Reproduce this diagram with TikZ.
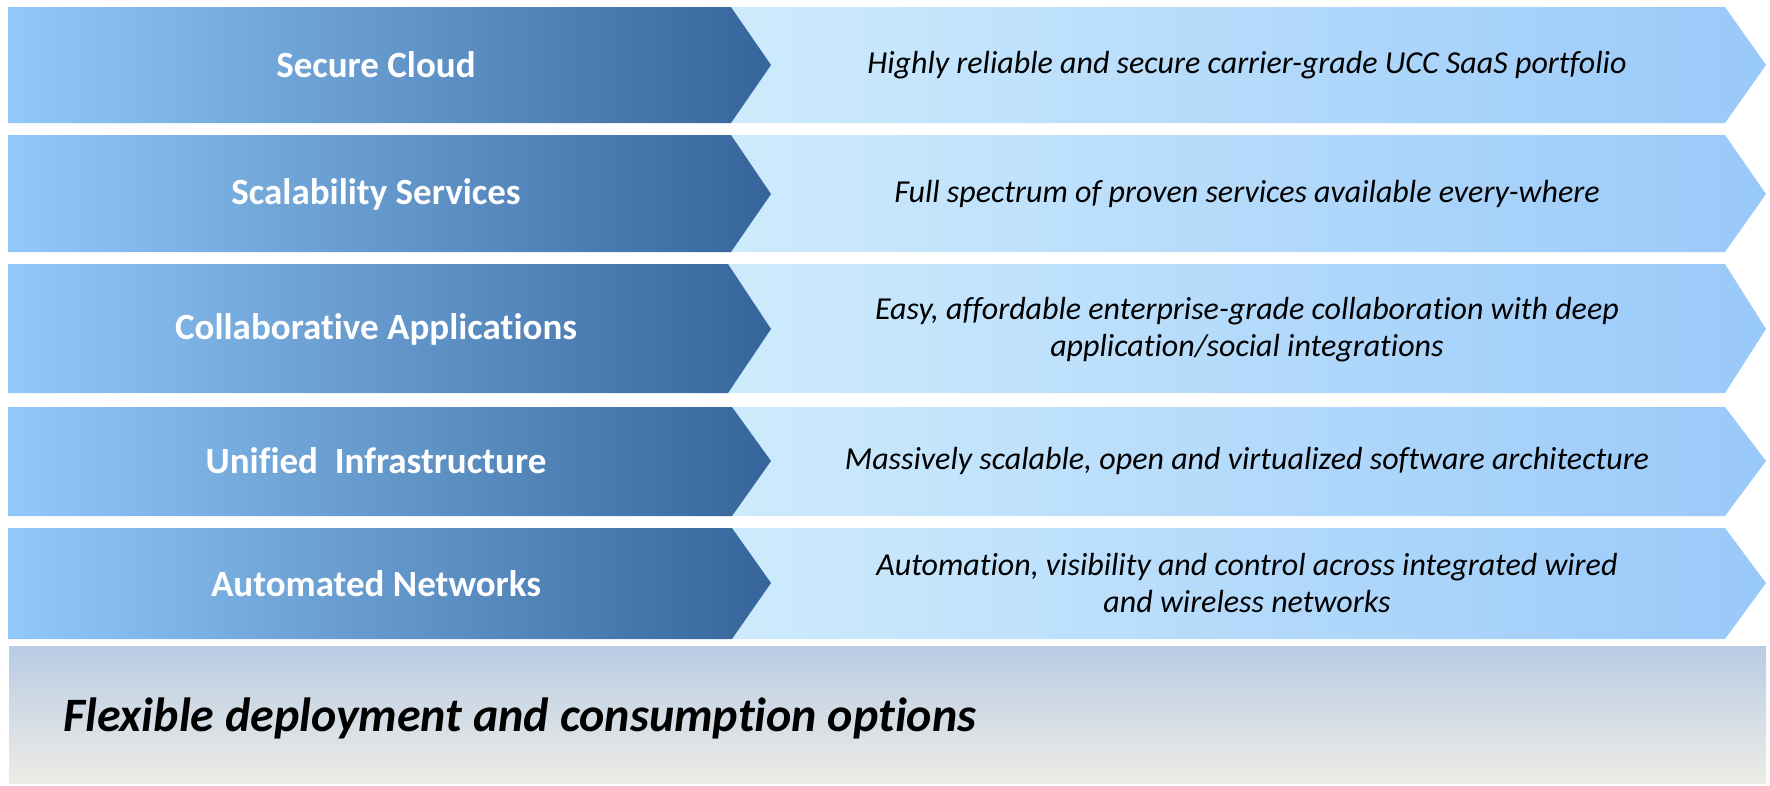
\documentclass[tikz,border=0pt]{standalone}
\usepackage{fontspec}
\setmainfont{Carlito}[Ligatures=NoCommon]
\usepackage{tikz}

\definecolor{darkleft}{HTML}{92C9FA}
\definecolor{darkright}{HTML}{35659B}
\definecolor{paleleft}{HTML}{D0ECFD}
\definecolor{paleright}{HTML}{99C9F9}
\definecolor{bandtop}{HTML}{B8CCE4}
\definecolor{bandbottom}{HTML}{EEECE5}

\tikzset{
  darkarrow/.style={left color=darkleft, right color=darkright},
  palearrow/.style={left color=paleleft, right color=paleright},
  pillar/.style={text=white, font=\fontsize{37}{42}\selectfont\bfseries},
  promise/.style={text=black, align=center, font=\fontsize{32}{37}\selectfont\itshape},
}

\begin{document}
\begin{tikzpicture}[x=1pt, y=-1pt]
                    \useasboundingbox (0,0) rectangle (1770,785);
                    % bottom band
                    \shade[top color=bandtop, bottom color=bandbottom] (9,646) rectangle (1766,783);
                    \node[anchor=west, font=\fontsize{48}{54}\selectfont\bfseries\itshape] (options) at (60,718) {Flexible deployment and consumption options};
                    % row 1
                    \shade[palearrow] (700,7) -- (1725,7) -- (1766,65) -- (1725,123) -- (700,123) -- cycle;
                    \shade[darkarrow] (8,7) -- (731,7) -- (771,65) -- (731,123) -- (8,123) -- cycle;
                    \node[pillar] (cloud) at (376,65) {Secure Cloud};
                    \node[promise] (cloudtext) at (1247,65) {Highly reliable and secure carrier-grade UCC SaaS portfolio};
                    % row 2
                    \shade[palearrow] (700,135) -- (1725,135) -- (1766,194) -- (1725,252) -- (700,252) -- cycle;
                    \shade[darkarrow] (8,135) -- (731,135) -- (771,194) -- (731,252) -- (8,252) -- cycle;
                    \node[pillar] (scale) at (376,194) {Scalability Services};
                    \node[promise] (scaletext) at (1247,194) {Full spectrum of proven services available every-where};
                    % row 3
                    \shade[palearrow] (700,264) -- (1725,264) -- (1766,329) -- (1725,393) -- (700,393) -- cycle;
                    \shade[darkarrow] (8,264) -- (728,264) -- (771,329) -- (728,393) -- (8,393) -- cycle;
                    \node[pillar] (apps) at (376,329) {Collaborative Applications};
                    \node[promise] (appstext) at (1247,330) {Easy, affordable enterprise-grade collaboration with deep\\application/social integrations};
                    % row 4
                    \shade[palearrow] (700,407) -- (1725,407) -- (1766,461) -- (1725,516) -- (700,516) -- cycle;
                    \shade[darkarrow] (8,407) -- (732,407) -- (771,461) -- (732,516) -- (8,516) -- cycle;
                    \node[pillar] (infra) at (376,461) {Unified\ \ Infrastructure};
                    \node[promise] (infratext) at (1247,461) {Massively scalable, open and virtualized software architecture};
                    % row 5
                    \shade[palearrow] (700,528) -- (1725,528) -- (1766,583) -- (1725,639) -- (700,639) -- cycle;
                    \shade[darkarrow] (8,528) -- (732,528) -- (771,583) -- (732,639) -- (8,639) -- cycle;
                    \node[pillar] (nets) at (376,584) {Automated Networks};
                    \node[promise] (netstext) at (1247,583) {Automation, visibility and control across integrated wired\\and wireless networks};
                \end{tikzpicture}
\end{document}
